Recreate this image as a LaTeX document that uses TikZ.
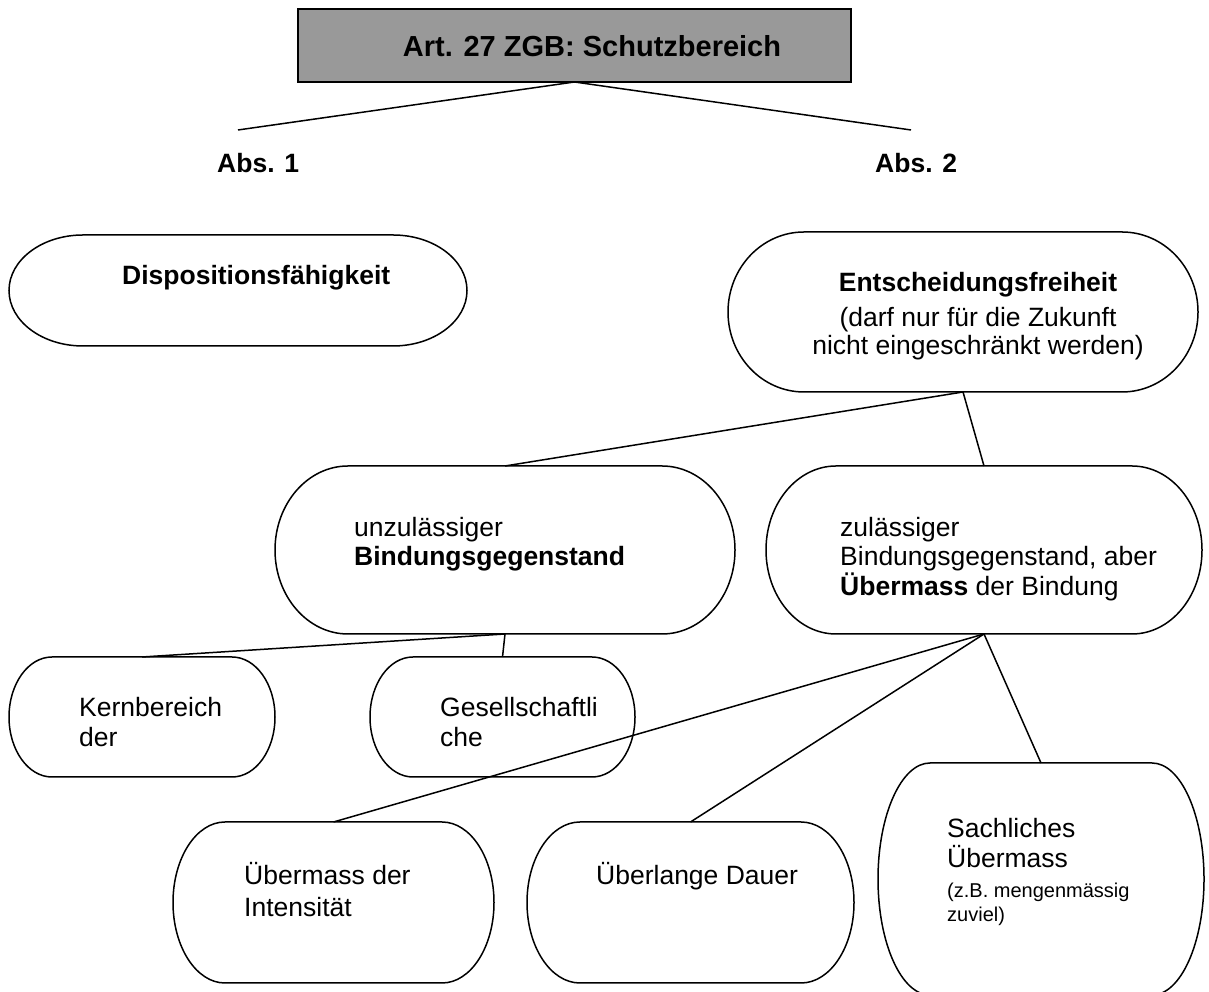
\documentclass[tikz,border=0pt]{standalone}
\usepackage{fontspec}
\setmainfont{Liberation Sans}
\definecolor{titlegray}{HTML}{999999}

\tikzset{
  boxarea/.style={rectangle, draw=none, inner sep=0pt, outer sep=0pt},
  outline/.style={line width=1.5pt},
  conn/.style={line width=1.5pt},
  txt/.style={inner sep=0pt, anchor=base west, font=\fontsize{26.5}{30}\selectfont},
  txtbold/.style={txt, font=\fontsize{26.5}{30}\selectfont\bfseries},
  txtsmall/.style={txt, font=\fontsize{20}{24}\selectfont},
  titlebox/.style={rectangle, draw, fill=titlegray, line width=1.5pt, inner sep=0pt, outer sep=0pt}
}

% terminator box: name, x, y, width, height, end radius
\newcommand{\termbox}[6]{%
  \node[boxarea, minimum width=#4, minimum height=#5] (#1) at (#2,#3) {};
  \draw[outline] ([xshift=#6]#1.north west) -- ([xshift=-#6]#1.north east)
    arc[start angle=90, end angle=-90, x radius=#6, y radius=#5/2]
    -- ([xshift=#6]#1.south west)
    arc[start angle=270, end angle=90, x radius=#6, y radius=#5/2] -- cycle;
}

\begin{document}
\begin{tikzpicture}[x=1pt, y=1pt]
\clip (0,0) rectangle (1209,992);

% title
\node[titlebox, minimum width=553, minimum height=73] (title) at (574.5,946.5) {};
\node[txtbold, font=\fontsize{29}{33}\selectfont\bfseries, anchor=base] (titletext) at (592,935) {Art. 27 ZGB: Schutzbereich};
\coordinate (abs1end) at (238,862);
\coordinate (abs2end) at (911,862);
\draw[conn] (title.south) -- (abs1end);
\draw[conn] (title.south) -- (abs2end);
\node[txtbold] (abs1) at (217,819) {Abs. 1};
\node[txtbold] (abs2) at (875,819) {Abs. 2};

% boxes
\termbox{dispo}{238}{701.5}{458}{111}{74}
\termbox{entsch}{963}{680}{470}{160}{76}
\termbox{unzul}{505}{442}{460}{168}{73}
\termbox{zul}{984}{442}{436}{168}{70}
\termbox{kern}{142}{275}{266}{120}{43}
\termbox{gesell}{502.5}{275}{265}{120}{43}
\termbox{intens}{333.5}{89.5}{321}{161}{52}
\termbox{dauer}{690.5}{89.5}{327}{161}{53}
\termbox{sach}{1041}{113}{326}{232}{52}

% connectors
\draw[conn] (entsch.south) -- (unzul.north);
\draw[conn] (entsch.south) -- (zul.north);
\draw[conn] (unzul.south) -- (kern.north);
\draw[conn] (unzul.south) -- (gesell.north);
\draw[conn] (zul.south) -- (intens.north);
\draw[conn] (zul.south) -- (dauer.north);
\draw[conn] (zul.south) -- (sach.north);

% texts
\node[txtbold] (dispo1) at (122,707) {Dispositionsfähigkeit};
\node[txtbold, anchor=base] (entsch1) at (978,700) {Entscheidungsfreiheit};
\node[txt, anchor=base] (entsch2) at (978,665) {(darf nur für die Zukunft};
\node[txt, anchor=base] (entsch3) at (978,637) {nicht eingeschränkt werden)};
\node[txt] (unzul1) at (354,455) {unzulässiger};
\node[txtbold] (unzul2) at (354,426) {Bindungsgegenstand};
\node[txt] (zul1) at (840,455) {zulässiger};
\node[txt] (zul2) at (840,426) {Bindungsgegenstand, aber};
\node[txt] (zul3) at (840,396) {{\bfseries Übermass} der Bindung};
\node[txt] (kern1) at (79,275) {Kernbereich};
\node[txt] (kern2) at (79,245) {der};
\node[txt] (gesell1) at (440,275) {Gesellschaftli};
\node[txt] (gesell2) at (440,245) {che};
\node[txt] (intens1) at (244,107) {Übermass der};
\node[txt] (intens2) at (244,75) {Intensität};
\node[txt] (dauer1) at (596,107) {Überlange Dauer};
\node[txt] (sach1) at (947,154) {Sachliches};
\node[txt] (sach2) at (947,124) {Übermass};
\node[txtsmall] (sach3) at (947,94) {(z.B. mengenmässig};
\node[txtsmall] (sach4) at (947,70) {zuviel)};
\end{tikzpicture}
\end{document}
